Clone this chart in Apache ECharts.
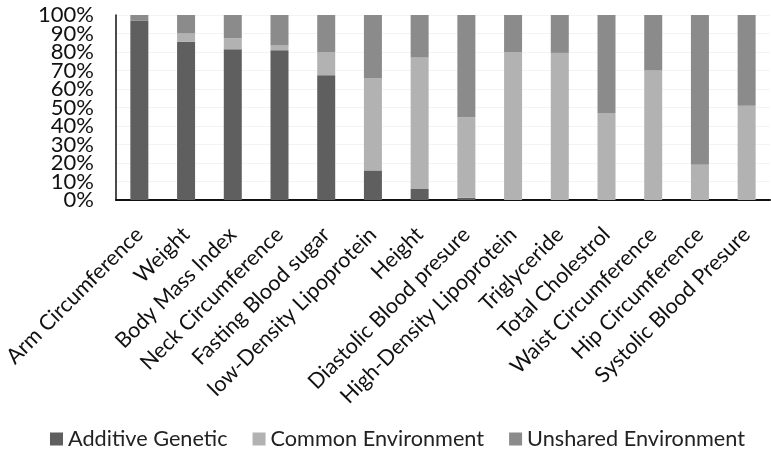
<!DOCTYPE html>
<html>
<head>
<meta charset="utf-8">
<script src="https://cdn.jsdelivr.net/npm/echarts@6/dist/echarts.min.js"></script>
<style>
  html, body { margin: 0; padding: 0; background: #fff; }
  #container { width: 771px; height: 461px; }
</style>
</head>
<body>
<div id="container"></div>
<script>
var categories = ['Arm Circumference', 'Weight', 'Body Mass Index', 'Neck Circumference',
    'Fasting Blood sugar', 'low-Density Lipoprotein', 'Height', 'Diastolic Blood presure',
    'High-Density Lipoprotein', 'Triglyceride', 'Total Cholestrol', 'Waist Circumference',
    'Hip Circumference', 'Systolic Blood Presure'];
var additiveGenetic = [97, 85.5, 81.5, 81, 67.5, 16, 6, 1.2, 0, 0, 0, 0, 0, 0];
var commonEnvironment = [0, 4.5, 6, 2.5, 12.5, 50, 71, 43.5, 80, 79.5, 47, 70, 19, 51];
var unsharedEnvironment = [3, 10, 12.5, 16.5, 20, 34, 23, 55.3, 20, 20.5, 53, 30, 81, 49];

var font = 'Lato, "Liberation Sans", sans-serif';

var myChart = echarts.init(document.getElementById('container'));

function bar(name, data, color) {
    return {
        name: name,
        type: 'bar',
        stack: 'total',
        barWidth: 18,
        data: data,
        itemStyle: { color: color },
        emphasis: { disabled: true }
    };
}

var yLabel = {
    margin: 22,
    showMinLabel: true,
    showMaxLabel: true,
    fontFamily: font,
    fontSize: 22,
    color: '#111'
};

myChart.setOption({
    animation: false,
    textStyle: { fontFamily: font },
    grid: { left: 116, right: 1, top: 15, bottom: 261 },
    legend: {
        bottom: 6,
        left: 45,
        itemWidth: 13,
        itemHeight: 13,
        itemGap: 25,
        icon: 'rect',
        textStyle: { fontFamily: font, fontSize: 21.7, color: '#222' },
        data: ['Additive Genetic', 'Common Environment', 'Unshared Environment']
    },
    xAxis: {
        type: 'category',
        data: categories,
        axisLine: { lineStyle: { color: '#111', width: 2 } },
        axisTick: { show: false },
        axisLabel: {
            rotate: 45,
            interval: 0,
            margin: 31,
            fontFamily: font,
            fontSize: 21.5,
            color: '#111'
        }
    },
    yAxis: [{
        type: 'value',
        min: 0,
        max: 100,
        interval: 20,
        axisLine: { show: true, lineStyle: { color: '#111', width: 1.5 } },
        axisTick: { show: false },
        splitLine: { show: false },
        axisLabel: Object.assign({ formatter: '{value}%' }, yLabel)
    }, {
        type: 'value',
        position: 'left',
        min: 0,
        max: 100,
        interval: 10,
        axisLine: { show: false },
        axisTick: { show: false },
        splitLine: { lineStyle: { color: '#f3f3f3' } },
        axisLabel: Object.assign({
            formatter: function (v) { return v % 20 === 0 ? '' : v + '%'; }
        }, yLabel)
    }],
    series: [
        bar('Additive Genetic', additiveGenetic, '#5f5f5f'),
        bar('Common Environment', commonEnvironment, '#b2b2b2'),
        bar('Unshared Environment', unsharedEnvironment, '#8b8b8b')
    ]
});
</script>
</body>
</html>
